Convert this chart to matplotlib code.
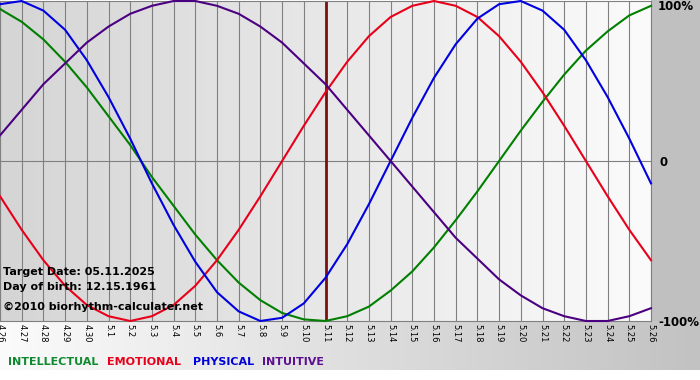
import numpy as np
import matplotlib.pyplot as plt
from matplotlib.colors import LinearSegmentedColormap

# dates along the bottom (4.26 .. 5.26)
days = ['4.26', '4.27', '4.28', '4.29', '4.30',
        '5.1', '5.2', '5.3', '5.4', '5.5', '5.6', '5.7', '5.8', '5.9', '5.10',
        '5.11', '5.12', '5.13', '5.14', '5.15', '5.16', '5.17', '5.18', '5.19',
        '5.20', '5.21', '5.22', '5.23', '5.24', '5.25', '5.26']
target_day = '5.11'

# cycle values in percent, one per day
physical = [98, 100, 94, 82, 63, 40, 14, -14, -40, -63, -82, -94, -100, -98, -89, -73,
            -52, -27, 0, 27, 52, 73, 89, 98, 100, 94, 82, 63, 40, 14, -14]
emotional = [-22, -43, -62, -78, -90, -97, -100, -97, -90, -78, -62, -43, -22, 0, 22, 43,
             62, 78, 90, 97, 100, 97, 90, 78, 62, 43, 22, 0, -22, -43, -62]
intellectual = [95, 87, 76, 62, 46, 28, 10, -10, -28, -46, -62, -76, -87, -95, -99, -100,
                -97, -91, -81, -69, -54, -37, -19, 0, 19, 37, 54, 69, 81, 91, 97]
intuitive = [16, 32, 48, 61, 74, 84, 92, 97, 100, 100, 97, 92, 84, 74, 61, 48,
             32, 16, 0, -16, -32, -48, -61, -74, -84, -92, -97, -100, -100, -97, -92]

names = ['INTELLECTUAL', 'EMOTIONAL', 'PHYSICAL', 'INTUITIVE']
line_colors = ['#007f00', '#e8001a', '#0000e0', '#4b0082']
text_colors = ['#108a30', '#e8001a', '#0000d8', '#5a1090']
name_x = [8, 107, 193, 262]

W, H = 700, 380
fig = plt.figure(figsize=(7, 3.8), dpi=100)
fig.patch.set_facecolor('white')

# grey gradient strip under the chart
bg = fig.add_axes([0, 10 / H, 1, 49 / H])
bg.imshow(np.linspace(0, 1, 256)[None, :], aspect='auto', extent=[0, 1, 0, 1],
          cmap=LinearSegmentedColormap.from_list('b', ['#fbfbfb', '#c2c2c2']))
bg.axis('off')

# flat grey strip at the right
side = fig.add_axes([651 / W, 59 / H, 49 / W, 321 / H])
side.set_facecolor('#c0c0c0')
side.set_xticks([])
side.set_yticks([])
for s in side.spines.values():
    s.set_visible(False)

ax = fig.add_axes([0, 59 / H, 651 / W, 320 / H])
x = np.arange(len(days))
ax.imshow(np.linspace(0, 1, 256)[None, :], aspect='auto', extent=[0, len(days) - 1, -100, 100],
          cmap=LinearSegmentedColormap.from_list('p', ['#d5d5d5', '#fbfbfb']), zorder=0)
ax.set_xlim(0, len(days) - 1)
ax.set_ylim(-100, 100)

ax.set_xticks(x)
ax.set_xticklabels(days, rotation=270, fontsize=6)
ax.tick_params(axis='x', length=0, pad=2.5)
ax.set_yticks([])
ax.grid(axis='x', color='#808080', lw=0.8, zorder=1)
ax.axhline(0, color='#808080', lw=0.8, zorder=1)
for s in ax.spines.values():
    s.set_color('#808080')
    s.set_linewidth(0.8)

ax.axvline(days.index(target_day), color='#7a1010', lw=2, zorder=2)

for vals, c in zip([intellectual, emotional, physical, intuitive], line_colors):
    ax.plot(x, vals, color=c, lw=1.5, clip_on=False, zorder=3)

# scale labels on the right
fig.text(658 / W, 1 - 7 / H, '100%', fontsize=8.5, fontweight='bold', va='center')
fig.text(659 / W, 1 - 162 / H, '0', fontsize=8.5, fontweight='bold', va='center')
fig.text(658 / W, 1 - 322 / H, '-100%', fontsize=8.5, fontweight='bold', va='center')

# info text
fig.text(3 / W, 1 - 272 / H, 'Target Date: 05.11.2025', fontsize=8, fontweight='bold', va='center')
fig.text(3 / W, 1 - 287 / H, 'Day of birth: 12.15.1961', fontsize=8, fontweight='bold', va='center')
fig.text(3 / W, 1 - 307 / H, '\u00a92010 biorhythm-calculater.net', fontsize=8, fontweight='bold', va='center')

# legend words
for n, c, px in zip(names, text_colors, name_x):
    fig.text(px / W, 1 - 362 / H, n, fontsize=8, fontweight='bold', color=c, va='center')

fig.savefig('out.png', dpi=100)
